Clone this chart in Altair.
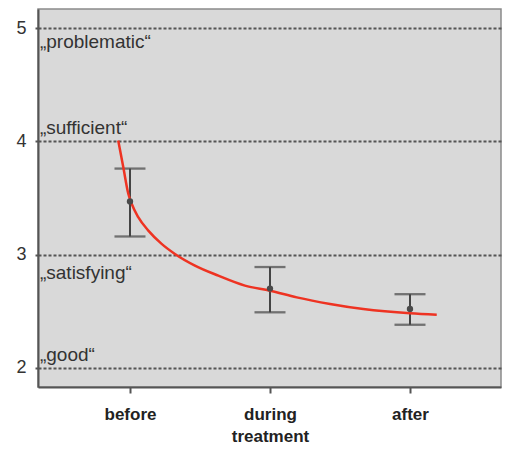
import altair as alt
import pandas as pd

# Data
phase_pos = [1, 2, 3]
phase_names = ["before", "during treatment", "after"]
means = [3.47, 2.70, 2.52]
lows = [3.16, 2.49, 2.38]
highs = [3.76, 2.89, 2.65]

curve_x = [0.916, 0.952, 0.988, 1.012, 1.059, 1.131, 1.226, 1.321, 1.464, 1.631,
           1.821, 2.0, 2.191, 2.429, 2.666, 3.0, 3.191]
curve_y = [4.009, 3.773, 3.537, 3.449, 3.330, 3.212, 3.095, 3.006, 2.903, 2.814,
           2.726, 2.681, 2.622, 2.564, 2.519, 2.481, 2.469]

grade_labels = ["\u201eproblematic\u201c", "\u201esufficient\u201c", "\u201esatisfying\u201c", "\u201egood\u201c"]
grade_y = [4.876, 4.115, 2.841, 2.115]
grade_x = [0.357, 0.357, 0.357, 0.357]

bars = pd.DataFrame({"x": phase_pos, "name": phase_names, "mean": means, "lo": lows, "hi": highs})
curve = pd.DataFrame({"x": curve_x, "y": curve_y})
grades = pd.DataFrame({"x": grade_x, "y": grade_y, "label": grade_labels})

FONT = "Liberation Sans"
xscale = alt.Scale(domain=[0.343, 3.65], nice=False, zero=False)
yscale = alt.Scale(domain=[1.83, 5.17], nice=False, zero=False)

xaxis = alt.Axis(
    values=[1, 2, 3],
    labelExpr="datum.value == 1 ? 'before' : datum.value == 2 ? ['during', 'treatment'] : 'after'",
    title=None, grid=False,
    domainColor="#555555", domainWidth=2,
    tickColor="#555555", tickWidth=2, tickSize=6,
    labelFont=FONT, labelFontSize=17, labelFontWeight="bold", labelColor="#222222",
    labelPadding=13, labelLineHeight=22,
)
yaxis = alt.Axis(
    values=[2, 3, 4, 5], format="d", title=None,
    grid=True, gridColor="#555555", gridDash=[3, 2], gridWidth=2,
    domainColor="#555555", domainWidth=2,
    tickColor="#555555", tickWidth=2, tickSize=5, tickDash=[3, 2],
    labelFont=FONT, labelFontSize=18, labelColor="#333333", labelPadding=7,
)

base = alt.Chart(bars)

axes_layer = alt.Chart(bars).mark_point(opacity=0).encode(
    x=alt.X("x:Q", scale=xscale, axis=xaxis),
    y=alt.Y("mean:Q", scale=yscale, axis=yaxis),
)

EB = "#444444"
rules = base.mark_rule(color=EB, strokeWidth=2).encode(
    x=alt.X("x:Q", scale=xscale), y=alt.Y("lo:Q", scale=yscale), y2="hi:Q"
)
caps_lo = base.mark_tick(color=EB, orient="horizontal", size=31, thickness=2.3).encode(
    x=alt.X("x:Q", scale=xscale), y=alt.Y("lo:Q", scale=yscale)
)
caps_hi = base.mark_tick(color=EB, orient="horizontal", size=31, thickness=2.3).encode(
    x=alt.X("x:Q", scale=xscale), y=alt.Y("hi:Q", scale=yscale)
)
dots = base.mark_circle(color="#4a4a4a", size=40, opacity=1).encode(
    x=alt.X("x:Q", scale=xscale), y=alt.Y("mean:Q", scale=yscale)
)
line = alt.Chart(curve).mark_line(color="#ee3322", strokeWidth=2.5, interpolate="monotone").encode(
    x=alt.X("x:Q", scale=xscale), y=alt.Y("y:Q", scale=yscale)
)
texts = alt.Chart(grades).mark_text(
    align="left", baseline="middle", font=FONT, fontSize=19, color="#333333"
).encode(
    x=alt.X("x:Q", scale=xscale), y=alt.Y("y:Q", scale=yscale), text="label:N"
)

chart = alt.layer(axes_layer, texts, rules, caps_lo, caps_hi, line, dots).properties(
    width=463, height=378,
    padding={"left": 38, "top": 9, "right": 8, "bottom": 62},
    autosize=alt.AutoSizeParams(type="none"),
    background="white",
).configure_view(
    fill="#d9d9d9", stroke="#8a8a8a", strokeWidth=1.5
)

chart.save("out.html", embed_options={"renderer": "svg", "actions": False})
